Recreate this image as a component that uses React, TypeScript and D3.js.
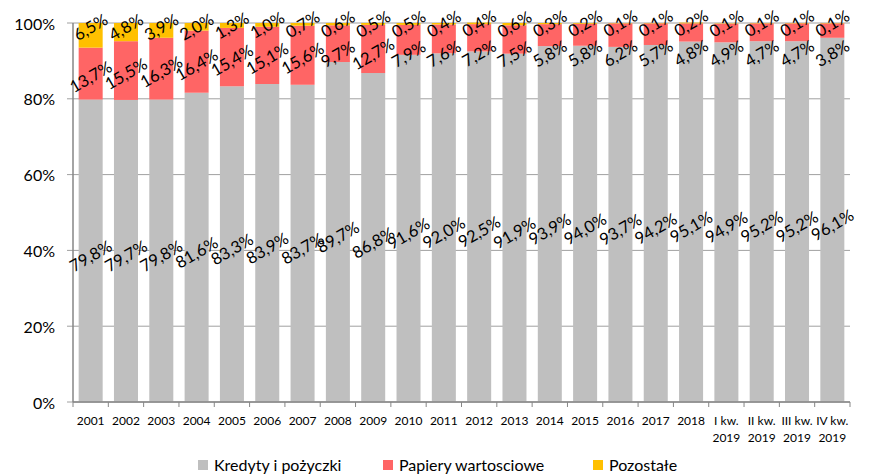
import React from "react";
import * as d3 from "d3";

const categories = ["2001","2002","2003","2004","2005","2006","2007","2008","2009","2010","2011","2012","2013","2014","2015","2016","2017","2018","I kw.\n2019","II kw.\n2019","III kw.\n2019","IV kw.\n2019"];
const kredyty = [79.8,79.7,79.8,81.6,83.3,83.9,83.7,89.7,86.8,91.6,92.0,92.5,91.9,93.9,94.0,93.7,94.2,95.1,94.9,95.2,95.2,96.1];
const papiery = [13.7,15.5,16.3,16.4,15.4,15.1,15.6,9.7,12.7,7.9,7.6,7.2,7.5,5.8,5.8,6.2,5.7,4.8,4.9,4.7,4.7,3.8];
const pozostale = [6.5,4.8,3.9,2.0,1.3,1.0,0.7,0.6,0.5,0.5,0.4,0.4,0.6,0.3,0.2,0.1,0.1,0.2,0.1,0.1,0.1,0.1];
const yTicks = [0, 20, 40, 60, 80, 100];
const seriesNames = ["Kredyty i pożyczki", "Papiery wartosciowe", "Pozostałe"];
const colors = ["#BFBFBF", "#FF6565", "#FFC000"];

const W = 878, H = 475;
const FONT = "Lato, 'Open Sans', sans-serif";

export default function App() {
  const x = d3.scaleBand<string>().domain(categories).range([73, 850]).paddingInner(0.32).paddingOuter(0.16);
  const y = d3.scaleLinear().domain([0, 100]).range([402, 23]);
  const fmt = (v: number) => v.toFixed(1).replace(".", ",") + "%";
  const series = [kredyty, papiery, pozostale];

  const bars: JSX.Element[] = [];
  const labels: JSX.Element[] = [];
  categories.forEach((c, i) => {
    let base = 0;
    const mids: number[] = [];
    series.forEach((s, k) => {
      const v = s[i];
      const y0 = y(base), y1 = y(base + v);
      bars.push(<rect key={`b${k}-${i}`} x={x(c)} y={y1} width={x.bandwidth()} height={y0 - y1} fill={colors[k]} />);
      mids.push((y0 + y1) / 2);
      base += v;
    });
    const cx = (x(c) as number) + x.bandwidth() / 2;
    const yYel = Math.min(mids[2], 27);
    const yRed = Math.max(mids[1] + 3, yYel + 30);
    const yGray = mids[0] + 5;
    [yGray, yRed, yYel].forEach((ly, k) => {
      labels.push(
        <text key={`l${k}-${i}`} transform={`translate(${cx},${ly}) rotate(-30)`} textAnchor="middle" dominantBaseline="central" fontSize={16.5} fill="#000">{fmt(series[k][i])}</text>
      );
    });
  });

  const bounds = [...categories.map((c) => x(c) as number - (x.step() * x.paddingInner()) / 2), 850];

  const legendItems = [
    { x: 198, label: seriesNames[0], color: colors[0] },
    { x: 383, label: seriesNames[1], color: colors[1] },
    { x: 593, label: seriesNames[2], color: colors[2] },
  ];

  return (
    <svg width={W} height={H} style={{ position: "absolute", left: 0, top: 0, fontFamily: FONT }}>
      <rect x={0} y={0} width={W} height={H} fill="#fff" />
      {yTicks.map((t) => (
        <g key={t}>
          <line x1={67} x2={850} y1={y(t)} y2={y(t)} stroke="#A0A0A0" strokeWidth={1} />
          <text x={55} y={y(t)} textAnchor="end" dominantBaseline="central" fontSize={16} fill="#000">{t}%</text>
        </g>
      ))}
      {bars}
      <line x1={73} x2={73} y1={23} y2={402} stroke="#868686" strokeWidth={1.5} />
      <line x1={73} x2={850} y1={402} y2={402} stroke="#868686" strokeWidth={1.5} />
      {bounds.map((b, i) => (
        <line key={i} x1={b} x2={b} y1={402} y2={407} stroke="#868686" strokeWidth={1} />
      ))}
      {categories.map((c) => {
        const lines = c.split("\n");
        const cx = (x(c) as number) + x.bandwidth() / 2;
        return (
          <text key={c} x={cx} y={425} textAnchor="middle" fontSize={12} fill="#000">
            {lines.map((l, j) => (
              <tspan key={j} x={cx} dy={j === 0 ? 0 : 17}>{l}</tspan>
            ))}
          </text>
        );
      })}
      {labels}
      {legendItems.map((it) => (
        <g key={it.label}>
          <rect x={it.x} y={460} width={10} height={10} fill={it.color} />
          <text x={it.x + 16} y={471} fontSize={16} fill="#000">{it.label}</text>
        </g>
      ))}
    </svg>
  );
}
